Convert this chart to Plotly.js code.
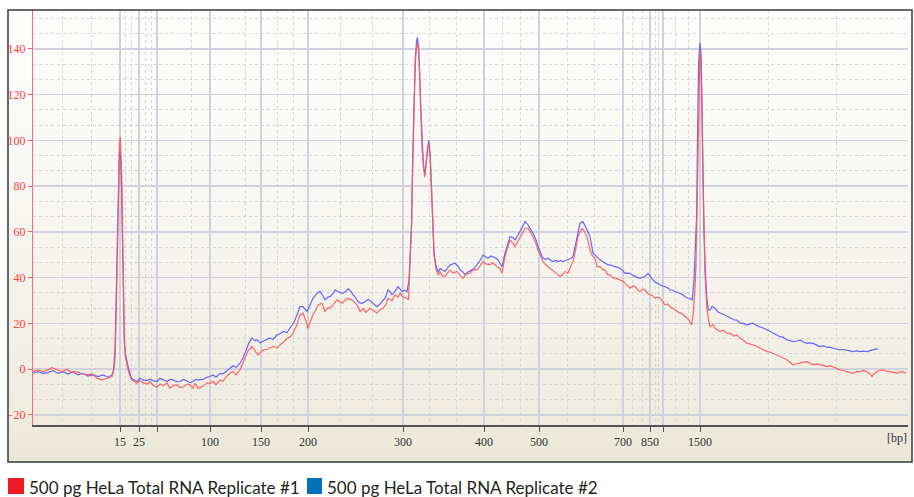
<!DOCTYPE html>
<html>
<head>
<meta charset="utf-8">
<script src="https://cdn.plot.ly/plotly-3.0.1.min.js"></script>
<style>html,body{margin:0;padding:0;background:#fff}#chart{width:914px;height:497px}</style>
</head>
<body>
<div id="chart"></div>
<script>
// Series names
const seriesNames = ["500 pg HeLa Total RNA Replicate #1", "500 pg HeLa Total RNA Replicate #2"];

// Ladder sizes (bp) and their migration times (s)
const ladderTimes = [28.7, 30.6, 32.4, 37.7, 42.8, 47.5, 57.0, 65.1, 70.6, 79.0, 81.7, 83.0, 86.7];
const ladderLabels = ["15", "25", "", "100", "150", "200", "300", "400", "500", "700", "850", "", "1500"];
const minorGridTimes = [22.9, 25.8, 29.2, 29.8, 31.2, 31.8, 35.8, 41.2, 44.4, 46.0, 50.7, 53.9, 59.6, 62.3,
  66.9, 68.7, 73.4, 76.1, 79.9, 80.9, 82.2, 82.5, 84.2, 85.5, 93.5, 100.3];

// Replicate #1: [migration time (s), fluorescence (FU)]
const rep1 = [
[20.00,-1.1],[20.50,-0.3],[21.00,-1.1],[21.50,-0.3],[21.90,0.7],[22.40,-0.3],[22.90,-1.1],[23.40,0],[23.90,-1.5],[24.40,-1.1],
[24.90,-2.1],[25.40,-2.5],[25.90,-2.1],[26.40,-4.0],[26.90,-4.7],[27.40,-4.0],[27.90,-3.2],[28.05,-1.1],[28.20,4],[28.35,30],
[28.45,60],[28.55,88],[28.65,99],[28.73,101.5],[28.80,96],[28.88,85],[28.95,62],[29.03,35],[29.13,15],[29.23,5.5],
[29.40,1],[29.55,-1.1],[29.85,-4.7],[30.10,-5.5],[30.40,-6.2],[30.70,-5.0],[31.00,-5.9],[31.40,-6.5],[31.70,-5.4],[32.00,-7.0],
[32.40,-7.9],[32.70,-6.5],[33.00,-7.3],[33.40,-6.0],[33.70,-8.3],[34.10,-7.0],[34.40,-6.9],[34.70,-8.0],[35.00,-7.9],[35.40,-6.5],
[35.70,-6.9],[36.00,-8.3],[36.20,-6.2],[36.50,-8.3],[37.00,-7.5],[37.40,-6.0],[37.70,-6.2],[38.00,-5.3],[38.30,-6.8],[38.70,-4.7],
[39.00,-5.3],[39.30,-3.5],[39.70,-1.7],[40.00,-1.0],[40.30,-2.5],[40.70,-0.3],[41.00,2.5],[41.20,4.8],[41.50,8.0],[41.90,9.9],
[42.20,8.0],[42.50,6.2],[43.00,8.4],[43.50,8.8],[44.00,9.9],[44.40,9.2],[44.70,10.6],[45.10,12.0],[45.40,13.5],[45.70,14.0],
[46.00,15.7],[46.40,19.5],[46.70,23.7],[47.00,24.5],[47.30,21.0],[47.50,17.9],[47.70,20.5],[48.00,23.7],[48.30,26.0],[48.50,28.1],
[48.90,28.8],[49.20,25.2],[49.50,27.0],[49.70,26.6],[50.10,28.5],[50.40,30.3],[50.70,29.5],[50.90,28.8],[51.20,30.0],[51.40,31.0],
[51.70,30.5],[51.90,30.3],[52.20,29.0],[52.40,28.1],[52.70,25.2],[53.00,26.5],[53.30,24.8],[53.70,26.6],[54.10,25.5],[54.40,24.5],
[54.70,26.0],[55.00,26.6],[55.30,28.5],[55.50,31.0],[55.90,30.0],[56.20,32.5],[56.50,31.5],[56.70,33.2],[57.00,31.5],[57.40,31.0],
[57.55,30.3],[57.70,45],[57.85,62],[57.97,90],[58.10,117],[58.23,134],[58.35,140],[58.48,142.5],[58.58,139],[58.70,122],
[58.80,112],[58.90,97],[59.03,90],[59.17,84],[59.30,89],[59.43,96],[59.57,99],[59.70,94],[59.83,82],[59.97,65],
[60.10,50],[60.30,44],[60.53,41],[60.70,42.7],[60.90,41.0],[61.20,40.5],[61.50,42.5],[61.70,43.4],[62.00,42.0],[62.40,42.7],
[62.70,41.0],[63.00,39.7],[63.30,41.5],[63.70,41.9],[64.00,43.5],[64.40,43.4],[64.70,45.0],[65.00,47.0],[65.30,46.0],[65.70,45.6],
[66.00,46.5],[66.40,44.8],[66.70,44.0],[66.90,41.9],[67.20,49.2],[67.50,54.0],[67.70,56.5],[68.00,55.0],[68.20,53.6],[68.50,56.0],
[68.70,57.9],[69.00,60.0],[69.20,61.6],[69.50,61.6],[69.80,59.5],[70.00,57.9],[70.30,55.0],[70.50,52.1],[70.80,49.0],[71.00,47.0],
[71.30,45.5],[71.50,44.8],[71.80,44.0],[72.00,43.4],[72.30,42.0],[72.70,40.5],[73.00,41.5],[73.20,42.7],[73.50,42.0],[73.70,44.1],
[74.00,47.0],[74.20,50.7],[74.50,57.9],[74.70,60.0],[74.90,61.6],[75.10,60.5],[75.40,57.9],[75.70,52.1],[75.90,49.9],[76.20,48.5],
[76.40,44.8],[76.70,44.8],[77.00,43.4],[77.20,43.4],[77.50,41.2],[77.70,41.2],[78.00,40.0],[78.20,39.7],[78.50,39.5],[78.70,39.0],
[79.00,38.5],[79.20,37.6],[79.50,36.5],[79.70,35.4],[80.00,36.5],[80.20,36.1],[80.50,34.5],[80.70,33.9],[81.00,35.0],[81.20,34.6],
[81.50,33.0],[81.70,32.5],[82.00,32.0],[82.20,31.0],[82.50,31.5],[82.70,31.0],[83.00,29.5],[83.20,28.1],[83.50,28.5],[83.70,27.3],
[84.00,26.5],[84.20,25.9],[84.50,25.0],[84.70,24.5],[85.00,24.0],[85.20,23.0],[85.50,22.0],[85.70,20.8],[85.87,19.3],[86.03,24.6],
[86.20,35],[86.30,46],[86.40,68],[86.50,100],[86.60,125],[86.70,139.6],[86.78,136],[86.87,120],[86.97,88],[87.10,58],
[87.20,42],[87.37,28],[87.53,22],[87.70,18.6],[88.00,19.5],[88.20,17.9],[88.50,17.0],[88.70,16.4],[89.00,17.0],[89.20,16.4],
[89.50,15.5],[89.70,15.7],[90.10,14.5],[90.40,15.0],[90.70,13.5],[91.00,12.8],[91.40,11.3],[91.70,11.0],[92.00,10.6],[92.40,10.0],
[92.70,9.2],[93.00,8.5],[93.40,7.7],[93.70,7.5],[94.00,7.0],[94.40,6.0],[94.70,5.5],[95.00,5.0],[95.40,4.0],[95.70,3.0],
[96.00,1.9],[96.40,2.5],[96.70,2.6],[97.00,3.0],[97.40,3.3],[97.70,2.5],[98.00,1.9],[98.40,2.3],[98.70,1.9],[99.00,1.5],
[99.40,1.1],[99.70,1.5],[100.00,1.1],[100.40,0.3],[100.70,-0.3],[101.00,-0.5],[101.40,-1.1],[101.70,-1.5],[102.00,-1.8],[102.40,-1.0],
[102.70,-1.1],[103.00,-0.5],[103.40,-1.1],[103.70,-2.0],[103.90,-3.2],[104.20,-1.5],[104.40,-1.1],[104.70,-0.5],[105.00,-0.3],[105.40,-1.0],
[105.70,-1.1],[106.00,-1.5],[106.40,-1.8],[106.70,-1.2],[107.00,-1.1],[107.30,-1.8]
];

// Replicate #2: [migration time (s), fluorescence (FU)]
const rep2 = [
[20.00,-1.8],[20.50,-1.1],[21.00,-1.8],[21.50,-1.5],[22.00,-0.6],[22.50,-1.8],[23.00,-1.1],[23.50,-2.1],[24.00,-1.1],[24.50,-2.5],
[25.00,-1.8],[25.50,-3.0],[26.00,-2.5],[26.50,-3.2],[27.00,-2.5],[27.50,-3.5],[27.90,-2.5],[28.05,-0.3],[28.20,8.4],[28.33,35],
[28.43,62],[28.53,84],[28.63,94],[28.70,96],[28.78,90],[28.86,78],[28.94,55],[29.03,30],[29.13,12],[29.23,7],
[29.40,3],[29.55,0.4],[29.85,-4.0],[30.10,-4.5],[30.40,-5.4],[30.70,-4.0],[31.00,-4.7],[31.40,-5.0],[31.70,-4.4],[32.00,-5.0],
[32.40,-5.4],[32.70,-4.0],[32.90,-4.4],[33.20,-5.0],[33.40,-5.4],[33.70,-4.5],[34.00,-4.7],[34.40,-5.5],[34.70,-5.4],[35.00,-4.5],
[35.40,-5.1],[35.70,-6.0],[36.00,-5.4],[36.30,-4.5],[36.50,-4.7],[37.00,-4.5],[37.40,-3.5],[37.70,-3.2],[38.00,-2.5],[38.30,-3.5],
[38.70,-1.8],[39.00,-2.0],[39.30,-1.0],[39.70,0.4],[40.00,1.5],[40.30,0.8],[40.70,2.6],[41.00,4.9],[41.30,8.5],[41.60,11.5],
[41.90,13.7],[42.20,12.5],[42.40,12.8],[42.70,11.5],[42.90,12.0],[43.30,12.8],[43.70,13.7],[44.00,13.0],[44.40,15.0],[44.70,15.5],
[45.00,16.4],[45.40,16.0],[45.70,18.0],[46.10,20.5],[46.40,23.7],[46.70,27.3],[47.00,27.3],[47.20,26.0],[47.40,25.2],[47.70,28.1],
[48.00,31.0],[48.40,33.2],[48.70,33.9],[49.00,32.0],[49.20,30.3],[49.50,31.5],[49.70,31.7],[50.00,33.0],[50.20,34.6],[50.50,33.9],
[50.80,33.5],[51.00,33.2],[51.30,34.0],[51.50,35.2],[51.80,34.0],[52.00,32.5],[52.30,31.0],[52.50,29.5],[52.70,29.0],[52.90,28.8],
[53.20,29.5],[53.50,30.5],[53.70,30.0],[54.00,29.0],[54.40,27.3],[54.70,28.5],[54.90,29.5],[55.20,31.0],[55.50,34.6],[55.70,34.0],
[55.90,32.5],[56.20,34.0],[56.50,36.1],[56.70,35.0],[56.90,33.9],[57.20,34.5],[57.40,33.9],[57.60,39],[57.75,52],[57.87,65],
[57.97,92],[58.10,118],[58.23,136],[58.35,143],[58.43,145],[58.53,142],[58.63,134],[58.77,116],[58.90,98],[59.03,90],
[59.17,85],[59.30,90],[59.43,97],[59.57,100],[59.70,95],[59.83,83],[59.97,66],[60.10,51],[60.30,45],[60.53,42.5],
[60.70,44.1],[60.90,43.5],[61.20,42.7],[61.50,44.5],[61.70,45.6],[62.00,46.0],[62.20,46.3],[62.50,45.0],[62.70,43.4],[63.00,42.5],
[63.20,41.2],[63.50,42.5],[63.90,43.4],[64.20,44.5],[64.40,45.6],[64.70,47.5],[65.00,49.9],[65.30,49.0],[65.50,48.5],[65.80,49.5],
[66.00,49.2],[66.30,48.5],[66.50,47.8],[66.70,46.5],[66.90,44.8],[67.20,50.7],[67.50,55.5],[67.70,57.9],[68.00,57.5],[68.20,56.5],
[68.50,58.5],[68.70,60.1],[69.00,62.5],[69.20,64.5],[69.50,63.1],[69.80,61.0],[70.00,59.4],[70.30,56.5],[70.50,53.6],[70.80,50.5],
[71.00,48.5],[71.30,48.0],[71.50,48.5],[71.80,47.5],[72.00,47.0],[72.30,47.5],[72.50,47.0],[72.80,47.5],[73.00,47.0],[73.30,47.5],
[73.50,47.8],[73.80,48.5],[74.00,49.2],[74.20,53.0],[74.40,57.9],[74.70,63.8],[75.00,64.5],[75.20,63.0],[75.40,60.9],[75.70,57.9],
[76.00,50.7],[76.20,49.9],[76.50,48.5],[76.70,47.8],[77.00,47.0],[77.20,46.3],[77.50,45.6],[77.70,45.6],[78.00,45.0],[78.20,44.8],
[78.50,44.5],[78.70,44.1],[79.00,43.0],[79.20,41.9],[79.50,42.0],[79.70,41.9],[80.00,41.0],[80.20,40.5],[80.50,40.0],[80.70,39.7],
[81.00,40.0],[81.20,40.5],[81.50,41.9],[81.70,40.5],[82.00,39.0],[82.20,38.0],[82.50,37.5],[82.70,36.8],[83.00,36.5],[83.20,36.1],
[83.50,35.5],[83.70,34.6],[84.00,34.5],[84.20,33.9],[84.50,33.5],[84.70,33.2],[85.00,32.5],[85.20,31.7],[85.50,31.0],[85.70,31.0],
[85.93,30.3],[86.10,39],[86.25,55],[86.37,68],[86.47,108],[86.57,135],[86.70,142.5],[86.80,138],[86.87,124],[86.97,89],
[87.10,60],[87.20,46.3],[87.37,31.7],[87.53,25.9],[87.70,25.9],[87.90,27.5],[88.20,26.6],[88.50,25.0],[88.70,24.5],[89.00,24.0],
[89.20,23.7],[89.50,23.0],[89.70,22.3],[90.10,21.5],[90.40,21.5],[90.70,20.1],[91.00,20.1],[91.40,19.3],[91.70,19.8],[92.00,20.1],
[92.40,19.0],[92.70,18.6],[93.00,18.0],[93.40,17.2],[93.70,16.5],[94.00,15.7],[94.40,15.0],[94.70,14.2],[95.00,14.0],[95.40,12.8],
[95.70,12.5],[96.00,12.0],[96.40,12.3],[96.70,12.8],[97.00,12.0],[97.40,11.3],[97.70,11.5],[98.00,11.3],[98.40,10.5],[98.70,9.9],
[99.00,10.2],[99.40,9.6],[99.70,9.5],[100.00,9.2],[100.40,8.8],[100.70,8.4],[101.00,8.6],[101.40,8.4],[101.70,8.0],[102.00,7.7],
[102.40,8.0],[102.70,7.7],[103.00,7.9],[103.40,7.7],[103.70,8.0],[104.00,8.4],[104.30,8.9],[104.50,8.7]
];

const axisFont = {family: "Liberation Serif, serif", size: 12};

const gradSvg = "<svg xmlns='http://www.w3.org/2000/svg' width='100' height='100' preserveAspectRatio='none'>" +
  "<defs><linearGradient id='g' x1='0' y1='0' x2='0' y2='1'>" +
  "<stop offset='0' stop-color='#fefefd'/><stop offset='0.45' stop-color='#f7f6f1'/>" +
  "<stop offset='0.9' stop-color='#efebdf'/><stop offset='1' stop-color='#ebe7d8'/></linearGradient></defs>" +
  "<rect width='100' height='100' fill='url(#g)'/></svg>";
const gradUri = "data:image/svg+xml;charset=utf-8," + encodeURIComponent(gradSvg);

const traces = [
  {x: rep2.map(p => p[0]), y: rep2.map(p => p[1]), type: "scatter", mode: "lines", name: seriesNames[1],
   line: {color: "#5858ff", width: 1.2, shape: "linear"}, opacity: 0.9, showlegend: false, hoverinfo: "x+y"},
  {x: rep1.map(p => p[0]), y: rep1.map(p => p[1]), type: "scatter", mode: "lines", name: seriesNames[0],
   line: {color: "#ff5555", width: 1.2, shape: "linear"}, opacity: 0.9, showlegend: false, hoverinfo: "x+y"}
];

// helper: paper coordinates relative to plot area
const M = {l: 33, r: 6, t: 10, b: 72};
const W = 914, H = 497;
const PW = W - M.l - M.r, PH = H - M.t - M.b;
const px = v => (v - M.l) / PW;
const py = v => (H - M.b - v) / PH;

const legendFont = {family: "Lato, Open Sans, sans-serif", size: 17, color: "#231f20"};

const layout = {
  width: W, height: H,
  margin: M,
  paper_bgcolor: "#ffffff",
  plot_bgcolor: "rgba(0,0,0,0)",
  showlegend: false,
  xaxis: {
    range: [20, 107.5], fixedrange: true,
    tickmode: "array", tickvals: ladderTimes, ticktext: ladderLabels,
    ticks: "outside", ticklen: 5, tickwidth: 1, tickcolor: "#555",
    tickfont: Object.assign({color: "#333"}, axisFont),
    showline: true, linecolor: "#555", linewidth: 2,
    showgrid: true, gridcolor: "#d0d3de", gridwidth: 1.5,
    zeroline: false,
    minor: {tickmode: "array", tickvals: minorGridTimes, showgrid: true, gridcolor: "#d6d6d6",
            griddash: "dot", gridwidth: 1, ticks: ""}
  },
  yaxis: {
    range: [-24.4, 157], fixedrange: true,
    tick0: 0, dtick: 20,
    ticks: "outside", ticklen: 4, tickwidth: 1, tickcolor: "#ff5a5a",
    tickfont: Object.assign({color: "#ff3b3b"}, axisFont),
    showline: true, linecolor: "#ff6a6a", linewidth: 1,
    showgrid: true, gridcolor: "#d0d3de", gridwidth: 1.5,
    zeroline: false,
    minor: {tick0: 0, dtick: 20 / 3, showgrid: true, gridcolor: "#d6d6d6", griddash: "dot", gridwidth: 1, ticks: ""}
  },
  images: [{
    source: gradUri, xref: "paper", yref: "paper",
    x: px(8), y: py(10), sizex: px(912) - px(8), sizey: py(10) - py(462),
    xanchor: "left", yanchor: "top", sizing: "stretch", layer: "below"
  }],
  shapes: [
    {type: "rect", xref: "paper", yref: "paper", x0: px(8), x1: px(912), y0: py(462), y1: py(10),
     line: {color: "#3a3a3a", width: 1.5}, fillcolor: "rgba(0,0,0,0)", layer: "above"},
    {type: "rect", xref: "paper", yref: "paper", x0: px(8), x1: px(24), y0: py(494), y1: py(478),
     line: {width: 0}, fillcolor: "#ed1c24"},
    {type: "rect", xref: "paper", yref: "paper", x0: px(307), x1: px(322), y0: py(494), y1: py(478),
     line: {width: 0}, fillcolor: "#0072bc"}
  ],
  annotations: [
    {text: "[bp]", xref: "paper", yref: "paper", x: px(909), y: py(438), xanchor: "right", yanchor: "middle",
     showarrow: false, font: Object.assign({color: "#333"}, axisFont)},
    {text: seriesNames[0], xref: "paper", yref: "paper", x: px(27), y: py(487), xanchor: "left", yanchor: "middle",
     showarrow: false, font: legendFont},
    {text: seriesNames[1], xref: "paper", yref: "paper", x: px(325), y: py(487), xanchor: "left", yanchor: "middle",
     showarrow: false, font: legendFont}
  ]
};

Plotly.newPlot("chart", traces, layout, {staticPlot: true, displayModeBar: false});
</script>
</body>
</html>
